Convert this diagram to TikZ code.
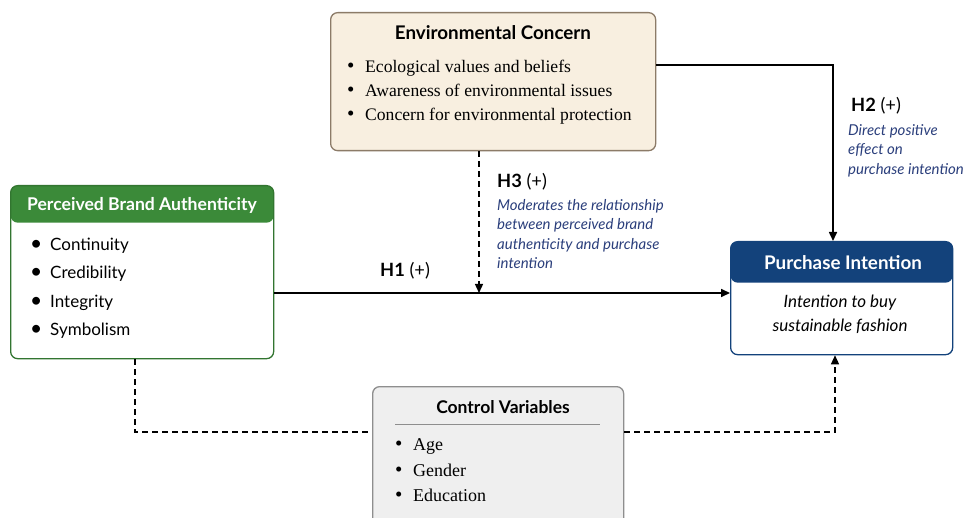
\documentclass[tikz,border=0pt]{standalone}
\usepackage{fontspec}
\setmainfont{Liberation Serif}
\setsansfont{Lato}
\usetikzlibrary{arrows.meta,positioning}

\definecolor{ecfill}{HTML}{F8EFE0}
\definecolor{ecdraw}{HTML}{8C7B68}
\definecolor{pbagreen}{HTML}{3B8A39}
\definecolor{pinavy}{HTML}{13427B}
\definecolor{cvfill}{HTML}{EFEFEF}
\definecolor{cvdraw}{HTML}{8E8E8E}
\definecolor{notecol}{HTML}{2B3F7C}

\newcommand{\blt}{{\fontsize{21}{20}\selectfont\textbullet}}

\begin{document}
\begin{tikzpicture}[x=1pt,y=-1pt,
  box/.style={draw, line width=1.3pt, rounded corners=7pt, anchor=north west, inner sep=0pt},
  ecbox/.style={box, draw=ecdraw, fill=ecfill, minimum width=325pt, minimum height=138pt},
  pbabox/.style={box, draw=pbagreen!85!black, fill=white, minimum width=263pt, minimum height=173pt,
    path picture={\fill[pbagreen] (path picture bounding box.north west) rectangle ([yshift=-37pt]path picture bounding box.north east);}},
  pibox/.style={box, draw=pinavy, fill=white, minimum width=222pt, minimum height=113pt,
    path picture={\fill[pinavy] (path picture bounding box.north west) rectangle ([yshift=-41pt]path picture bounding box.north east);}},
  cvbox/.style={box, draw=cvdraw, fill=cvfill, minimum width=251pt, minimum height=150pt},
  title/.style={font=\sffamily\bfseries\fontsize{18.8}{22}\selectfont, anchor=base, inner sep=0pt},
  serifitem/.style={font=\fontsize{17.6}{20}\selectfont, anchor=base west, inner sep=0pt},
  sansitem/.style={font=\sffamily\fontsize{17}{20}\selectfont, anchor=base west, inner sep=0pt},
  hyp/.style={font=\sffamily\fontsize{18.3}{20}\selectfont, anchor=base west, inner sep=0pt},
  note/.style={font=\sffamily\itshape\fontsize{15}{19.5}\selectfont, text=notecol, align=left, anchor=north west, inner sep=0pt},
  link/.style={line width=1.6pt, -{Triangle[length=9pt,width=8pt]}},
  ctrl/.style={line width=1.3pt, dash pattern=on 6pt off 4pt},
  ]
\useasboundingbox[fill=white] (0,0) rectangle (968,518);

% boxes
\node[ecbox] (ec) at (330,12) {};
\node[pbabox] (pba) at (10,185) {};
\node[pibox] (pi) at (730,241) {};
\node[cvbox] (cv) at (372,386) {};

% environmental concern
\node[title] (ectitle) at (493,40) {Environmental Concern};
\foreach \txt [count=\i] in {Ecological values and beliefs, Awareness of environmental issues, Concern for environmental protection}
  \node[serifitem] (ecitem\i) at (347,49+24*\i) {\makebox[18pt][l]{\blt}\txt};

% perceived brand authenticity
\node[title, text=white, font=\sffamily\bfseries\fontsize{17.6}{20}\selectfont] (pbatitle) at (142,211) {Perceived Brand Authenticity};
\foreach \txt [count=\i] in {Continuity, Credibility, Integrity, Symbolism}
  \node[sansitem] (pbaitem\i) at (30,223+28*\i) {\makebox[20pt][l]{\blt}\txt};

% purchase intention
\node[title, text=white] (pititle) at (843,270) {Purchase Intention};
\node[font=\sffamily\itshape\fontsize{17}{24}\selectfont, align=center, anchor=north, inner sep=0pt] (pitext) at (840,295) {Intention to buy\\sustainable fashion};

% control variables
\node[title, font=\sffamily\bfseries\fontsize{17.5}{20}\selectfont] (cvtitle) at (503,413) {Control Variables};
\draw[cvdraw, line width=1pt] (395,424) -- (600,424);
\foreach \txt [count=\i] in {Age, Gender, Education}
  \node[serifitem, font=\fontsize{18}{20}\selectfont] (cvitem\i) at (395,425+25.5*\i) {\makebox[18pt][l]{\blt}\txt};

% connectors
\coordinate (h1in) at (479,293);
\coordinate (h2turn) at (833,65);
\coordinate (ctrlleft) at (135,432);
\coordinate (ctrlright) at (835,432);
\draw[link] (pba.east |- h1in) -- (pi.west |- h1in);
\draw[link] (ec.east |- h2turn) -- (h2turn) -- (pi.north -| h2turn);
\draw[link, dash pattern=on 6pt off 4pt, line width=1.3pt] (ec.south -| h1in) -- (h1in);
\draw[ctrl] (pba.south -| ctrlleft) |- (cv.west |- ctrlleft);
\draw[ctrl, -{Triangle[length=9pt,width=8pt]}] (cv.east |- ctrlright) -| (pi.south -| ctrlright);

% labels
\node[hyp] (h1) at (380,277) {\textbf{H1} (+)};
\node[hyp] (h2) at (851,112) {\textbf{H2} (+)};
\node[note] (h2note) at (848,124) {Direct positive\\effect on\\purchase intention};
\node[hyp] (h3) at (497,188) {\textbf{H3} (+)};
\node[note] (h3note) at (497,199) {Moderates the relationship\\between perceived brand\\authenticity and purchase\\intention};
\end{tikzpicture}
\end{document}
